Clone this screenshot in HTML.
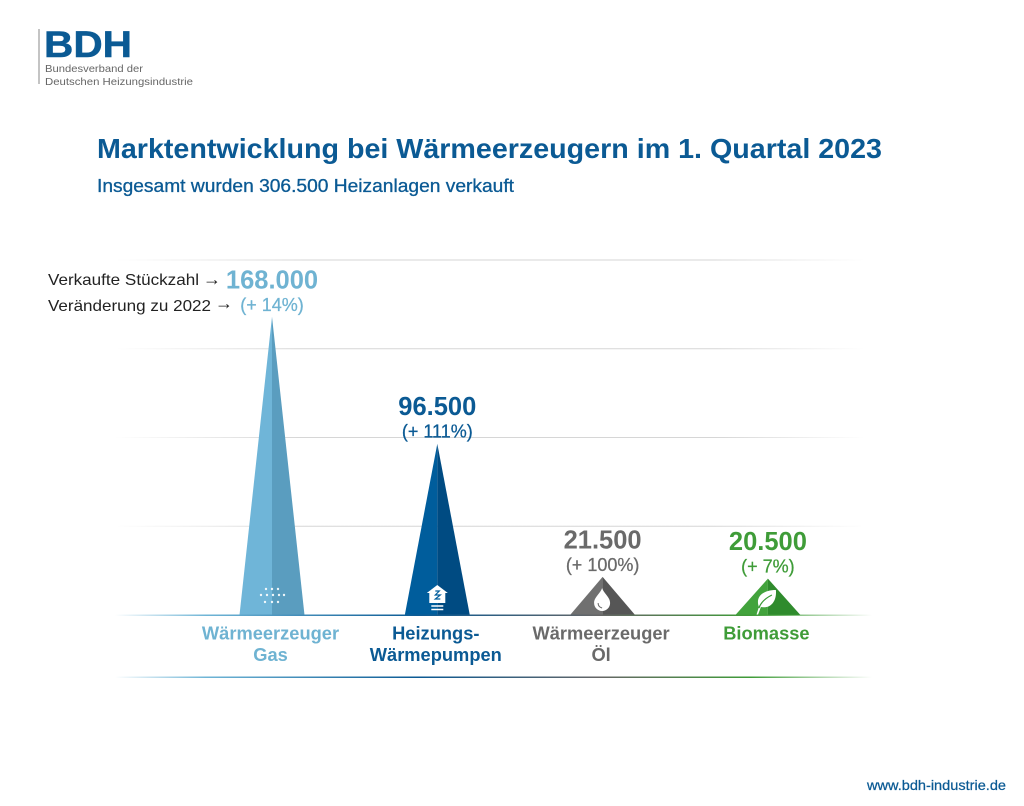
<!DOCTYPE html>
<html lang="de">
<head>
<meta charset="utf-8">
<title>Marktentwicklung bei Wärmeerzeugern im 1. Quartal 2023</title>
<style>
html,body{margin:0;padding:0;background:#fff;width:1024px;height:806px;overflow:hidden}
svg{display:block}
text{font-family:"Liberation Sans",sans-serif}
</style>
</head>
<body>
<svg id="chart" width="1024" height="806" viewBox="0 0 1024 806" xmlns="http://www.w3.org/2000/svg">
  <defs>
    <linearGradient id="gridGrad" gradientUnits="userSpaceOnUse" x1="115" y1="0" x2="865" y2="0">
      <stop offset="0" stop-color="#d4d4d4" stop-opacity="0"/>
      <stop offset="0.25" stop-color="#d6d6d6"/>
      <stop offset="0.8" stop-color="#d6d6d6"/>
      <stop offset="1" stop-color="#d4d4d4" stop-opacity="0"/>
    </linearGradient>
    <linearGradient id="baseGrad" gradientUnits="userSpaceOnUse" x1="115" y1="0" x2="872" y2="0">
      <stop offset="0" stop-color="#6fb5d6" stop-opacity="0"/>
      <stop offset="0.12" stop-color="#6fb5d6"/>
      <stop offset="0.4" stop-color="#0b5a94"/>
      <stop offset="0.64" stop-color="#666666"/>
      <stop offset="0.84" stop-color="#3f9c38"/>
      <stop offset="1" stop-color="#3f9c38" stop-opacity="0"/>
    </linearGradient>
  </defs>

  <g>
    <rect x="38.5" y="29" width="1" height="55" fill="#8a8a8a"/>
    <text x="44" y="57" font-size="37" font-weight="700" fill="#0b5a94" stroke="#0b5a94" stroke-width="0.5" textLength="88" lengthAdjust="spacingAndGlyphs">BDH</text>
    <text x="45" y="72" font-size="10.5" fill="#666" textLength="98" lengthAdjust="spacingAndGlyphs">Bundesverband der</text>
    <text x="45" y="85" font-size="10.5" fill="#666" textLength="148" lengthAdjust="spacingAndGlyphs">Deutschen Heizungsindustrie</text>
  </g>

  <text x="97" y="158" font-size="28" font-weight="700" fill="#0b5a94" textLength="785" lengthAdjust="spacingAndGlyphs">Marktentwicklung bei Wärmeerzeugern im 1. Quartal 2023</text>
  <text x="97" y="192" font-size="18" fill="#0b5a94" stroke="#0b5a94" stroke-width="0.3" textLength="417" lengthAdjust="spacingAndGlyphs">Insgesamt wurden 306.500 Heizanlagen verkauft</text>

  <g id="grid"></g>
  <g id="bars"></g>
  <g id="labels"></g>

  <rect x="115" y="614.5" width="757" height="1.5" fill="url(#baseGrad)"/>
  <rect x="115" y="676.5" width="757" height="1.5" fill="url(#baseGrad)"/>

  <text x="48" y="285" font-size="16" fill="#222" textLength="151" lengthAdjust="spacingAndGlyphs">Verkaufte Stückzahl</text>
  <text x="203" y="285" font-size="18" fill="#222" textLength="18" lengthAdjust="spacingAndGlyphs">→</text>
  <text x="48" y="311" font-size="16" fill="#222" textLength="163" lengthAdjust="spacingAndGlyphs">Veränderung zu 2022</text>
  <text x="215" y="309" font-size="18" fill="#222" textLength="18" lengthAdjust="spacingAndGlyphs">→</text>

  <text x="867" y="790" font-size="14" fill="#0b5a94" stroke="#0b5a94" stroke-width="0.25" textLength="139" lengthAdjust="spacingAndGlyphs">www.bdh-industrie.de</text>
</svg>

<script>
var categories = [["Wärmeerzeuger", "Gas"], ["Heizungs-", "Wärmepumpen"], ["Wärmeerzeuger", "Öl"], ["Biomasse"]];
var unitsSold = [168000, 96500, 21500, 20500];
var changePercent = [14, 111, 100, 7];
var gridValues = [50000, 100000, 150000, 200000];

var seriesStyle = ["gas", "pump", "oil", "bio"];
var leftColor = {gas: "#6fb5d8", pump: "#005d9c", oil: "#707070", bio: "#42a33c"};
var rightColor = {gas: "#5a9dbf", pump: "#004b82", oil: "#565656", bio: "#2f8b2d"};
var textColor = {gas: "#6fb3d2", pump: "#0b5a94", oil: "#6a6a6a", bio: "#3f9c38"};

var NS = "http://www.w3.org/2000/svg";
var BASE_Y = 615;
var PX_PER_UNIT = 355 / 200000;
var FIRST_X = 272;
var STEP_X = 165.3;
var HALF_BASE = 32.5;

function y(v) { return BASE_Y - v * PX_PER_UNIT; }
function x(i) { return FIRST_X + i * STEP_X; }
function make(tag, props) {
  var el = document.createElementNS(NS, tag);
  for (var k in props) el.setAttribute(k, props[k]);
  return el;
}

var gridG = document.getElementById("grid");
gridValues.forEach(function (v) {
  var line = make("rect", {x: 115, y: y(v) - 0.5, width: 750, height: 1, fill: "url(#gridGrad)"});
  
  
  gridG.appendChild(line);
});

function drawIcon(group, kind, cx) {
  var icon;
  if (kind === "gas") {
    icon = make("g", {fill: "#ffffff", "fill-opacity": 0.9});
    [[-6, 589], [0, 589], [6, 589], [-11, 595], [-5, 595], [1, 595], [7, 595], [12, 595], [-7, 602], [0, 602], [6, 602]].forEach(function (d) {
      icon.appendChild(make("circle", {cx: cx + d[0], cy: d[1], r: 1.2}));
    });
  } else if (kind === "pump") {
    icon = make("g", {});
    icon.appendChild(make("path", {fill: "#ffffff", d: "M" + cx + " 585 l10.5 8 h-2.5 v10 h-16 v-10 h-2.5 z"}));
    icon.appendChild(make("path", {fill: "none", stroke: "#005d9c", "stroke-width": 1.2, d: "M" + (cx - 2) + " 591 h4 l-4 4 h5 l-5 4 h5"}));
    icon.appendChild(make("path", {fill: "none", stroke: "#ffffff", "stroke-width": 1.4, d: "M" + (cx - 6) + " 606 h12 M" + (cx - 6) + " 609.5 h12"}));
  } else if (kind === "oil") {
    icon = make("g", {});
    icon.appendChild(make("path", {fill: "#ffffff", d: "M" + (cx - 0.5) + " 588 c2 6 8 9 8 15 a8 8 0 0 1 -16 0 c0 -6 6 -9 8 -15 z"}));
    icon.appendChild(make("path", {fill: "none", stroke: "#666666", "stroke-width": 1, d: "M" + (cx - 4.5) + " 603 c0 3 2 4.5 4 5"}));
  } else {
    icon = make("g", {});
    icon.appendChild(make("path", {fill: "#ffffff", d: "M" + (cx - 9) + " 607 c-4 -11 5 -17 17 -17 c1 11 -5 19 -15 17 l-3 8 h-1.5 z"}));
    icon.appendChild(make("path", {fill: "none", stroke: "#3a9a36", "stroke-width": 1.2, d: "M" + (cx - 9) + " 608 c2 -6 7 -10 13 -13"}));
  }
  
  
  group.appendChild(icon);
}

var barsG = document.getElementById("bars");
var labelsG = document.getElementById("labels");

unitsSold.forEach(function (v, i) {
  var key = seriesStyle[i];
  var cx = x(i);
  var top = y(v);

  var g = make("g", {});
  
  

  var left = make("polygon", {points: (cx - HALF_BASE) + "," + BASE_Y + " " + cx + "," + top + " " + cx + "," + BASE_Y, fill: leftColor[key]});
  
  
  g.appendChild(left);

  var right = make("polygon", {points: cx + "," + BASE_Y + " " + cx + "," + top + " " + (cx + HALF_BASE) + "," + BASE_Y, fill: rightColor[key]});
  
  
  g.appendChild(right);

  drawIcon(g, key, cx);
  barsG.appendChild(g);

  var valueText = make("text", {x: cx, y: top - 28.5, "text-anchor": "middle", "font-size": 25.5, "font-weight": 700, fill: textColor[key]});
  valueText.textContent = v.toLocaleString("de-DE");
  
  
  labelsG.appendChild(valueText);

  var changeText = make("text", {x: cx, y: top - 6, "text-anchor": "middle", "font-size": 18, fill: textColor[key], stroke: textColor[key], "stroke-width": 0.25});
  changeText.textContent = "(+ " + changePercent[i] + "%)";
  
  
  labelsG.appendChild(changeText);

  categories[i].forEach(function (line, j) {
    var cat = make("text", {x: cx - 1.5, y: 639.5 + j * 21.5, "text-anchor": "middle", "font-size": 18.3, "font-weight": 700, fill: textColor[key]});
    cat.textContent = line;
    
    
    labelsG.appendChild(cat);
  });
});
</script>
</body>
</html>
